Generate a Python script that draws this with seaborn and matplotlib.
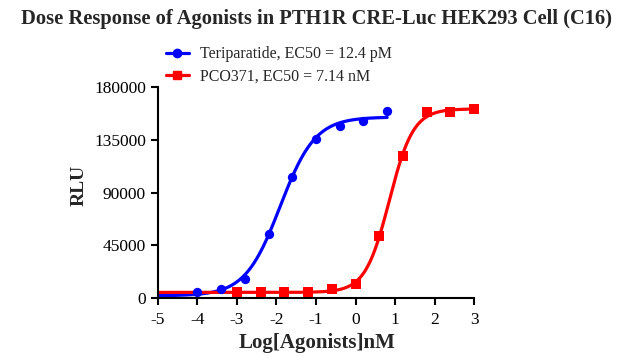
import numpy as np
import pandas as pd
import seaborn as sns
import matplotlib.pyplot as plt
from matplotlib.lines import Line2D

# данные
teri_logc = [-4.0, -3.4, -2.8, -2.2, -1.6, -1.0, -0.4, 0.2, 0.8]
teri_rlu = [5000, 7300, 16100, 54600, 103400, 136300, 147400, 151200, 159700]
pco_logc = [-3.0, -2.4, -1.8, -1.2, -0.6, 0.0, 0.6, 1.2, 1.8, 2.4, 3.0]
pco_rlu = [4500, 4500, 4600, 4800, 7000, 11600, 53200, 121200, 158900, 158600, 161400]
teri_ec50_nM = 0.0124
pco_ec50_nM = 7.14
labels = ['Teriparatide, EC50 = 12.4 pM', 'PCO371, EC50 = 7.14 nM']
colors = ['#0000ff', '#ff0000']


def fit_4pl(x, y, logec50):
    # подбор нижнего/верхнего плато и наклона при известном EC50
    x = np.asarray(x, float)
    y = np.asarray(y, float)
    best = None
    for h in np.linspace(0.5, 3, 251):
        s = 1 / (1 + 10 ** (h * (logec50 - x)))
        A = np.column_stack([np.ones_like(s), s])
        coef, *_ = np.linalg.lstsq(A, y, rcond=None)
        err = ((A @ coef - y) ** 2).sum()
        if best is None or err < best[0]:
            best = (err, coef[0], coef[0] + coef[1], h)
    return best[1:]


def curve(x_from, x_to, x, y, logec50):
    bottom, top, h = fit_4pl(x, y, logec50)
    xs = np.linspace(x_from, x_to, 300)
    return xs, bottom + (top - bottom) / (1 + 10 ** (h * (logec50 - xs)))


sns.set_theme(style='ticks')
plt.rcParams['font.family'] = ['Liberation Serif', 'DejaVu Serif']
plt.rcParams['axes.unicode_minus'] = False

fig = plt.figure(figsize=(6.39, 3.63), dpi=100)
ax = fig.add_axes([0.247, 0.180, 0.495, 0.579])

series = [
    (teri_logc, teri_rlu, np.log10(teri_ec50_nM), 'o', 0.8),
    (pco_logc, pco_rlu, np.log10(pco_ec50_nM), 's', 3.0),
]
for (xv, yv, lec, mk, xmax), col in zip(series, colors):
    xs, ys = curve(-5, xmax, xv, yv, lec)
    sns.lineplot(x=xs, y=ys, color=col, linewidth=2.3, ax=ax, legend=False)
    sns.scatterplot(x=xv, y=yv, color=col, marker=mk, s=45, edgecolor=col,
                    linewidth=0, ax=ax, legend=False, zorder=3, clip_on=False)

ax.set_xlim(-5, 3)
ax.set_ylim(0, 180000)
ax.set_xticks(range(-5, 4))
ax.set_yticks([0, 45000, 90000, 135000, 180000])
ax.set_yticklabels(['0', '45000', '90000', '135000', '180000'])
ax.tick_params(labelsize=12.5, width=1.5, length=5, color='black', labelcolor='black')
ax.tick_params(axis='x', pad=5)
for side in ['left', 'bottom']:
    ax.spines[side].set_linewidth(1.5)
    ax.spines[side].set_color('black')
sns.despine(ax=ax)

ax.set_xlabel('Log[Agonists]nM', fontsize=15, fontweight='bold')
ax.set_ylabel('RLU', fontsize=14, fontweight='bold')
ax.xaxis.set_label_coords(0.503, -0.168)
ax.yaxis.set_label_coords(-0.222, 0.536)

fig.suptitle('Dose Response of Agonists in PTH1R CRE-Luc HEK293 Cell (C16)',
             fontsize=14.8, fontweight='bold', x=0.495, y=0.975)

handles = [Line2D([], [], color=colors[0], marker='o', linewidth=2.3, markersize=6),
           Line2D([], [], color=colors[1], marker='s', linewidth=2.3, markersize=6)]
fig.legend(handles, labels, loc='upper left', bbox_to_anchor=(0.25, 0.89),
           frameon=False, fontsize=11.5, handlelength=1.4, handletextpad=0.7,
           labelspacing=0.4, borderaxespad=0)

fig.savefig('out.png', dpi=100)
